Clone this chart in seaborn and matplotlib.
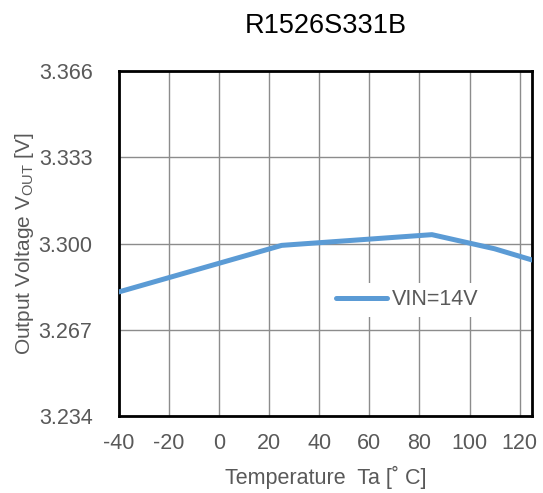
import numpy as np
import pandas as pd
import matplotlib
matplotlib.use("Agg")
import matplotlib.pyplot as plt
import seaborn as sns

# Output voltage vs temperature
temperature = [-40, 25, 85, 110, 125]
vout = [3.2815, 3.2993, 3.3034, 3.2980, 3.2937]
series_name = "VIN=14V"

x_ticks = [-40, -20, 0, 20, 40, 60, 80, 100, 120]
y_ticks = [3.234, 3.267, 3.300, 3.333, 3.366]

sns.set_style("white")
plt.rcParams['font.family'] = ['Liberation Sans', 'DejaVu Sans']
plt.rcParams['mathtext.fontset'] = 'custom'
plt.rcParams['mathtext.rm'] = 'Liberation Sans'
plt.rcParams['axes.unicode_minus'] = False

grey_text = '#595959'

df = pd.DataFrame({'Ta': temperature, 'Vout': vout, 'series': series_name})

fig = plt.figure(figsize=(5.43, 4.93), dpi=100)
ax = fig.add_axes([0.219, 0.156, 0.761, 0.700])

sns.lineplot(data=df, x='Ta', y='Vout', hue='series', palette=['#5B9BD5'],
             linewidth=3.6, ax=ax, zorder=3)

ax.set_xlim(-40, 125)
ax.set_ylim(3.234, 3.366)
ax.set_xticks(x_ticks)
ax.set_yticks(y_ticks)
ax.set_yticklabels([f'{v:.3f}' for v in y_ticks])
ax.grid(True, color='#8c8c8c', linewidth=1.0)
ax.tick_params(length=0, labelsize=15.5, labelcolor=grey_text)
ax.tick_params(axis='x', pad=12)
ax.tick_params(axis='y', pad=19)

for s in ax.spines.values():
    s.set_color('black')
    s.set_linewidth(2)

ax.set_xlabel('Temperature  Ta [˚ C]', fontsize=15.5, color=grey_text, labelpad=9)
ax.set_ylabel(r'Output Voltage V$_{\mathrm{OUT}}$ [V]', fontsize=15, color=grey_text, labelpad=2)
ax.set_title('R1526S331B', fontsize=19.5, color='black', pad=27)

leg = ax.legend(loc='center left', bbox_to_anchor=(0.483, 0.337), frameon=True,
                fontsize=15.5, handlelength=2.4, handletextpad=0.2, borderpad=0.3)
leg.get_frame().set_facecolor('white')
leg.get_frame().set_edgecolor('none')
leg.get_frame().set_alpha(1)
for t in leg.get_texts():
    t.set_color(grey_text)

fig.savefig('out.png', dpi=100)
